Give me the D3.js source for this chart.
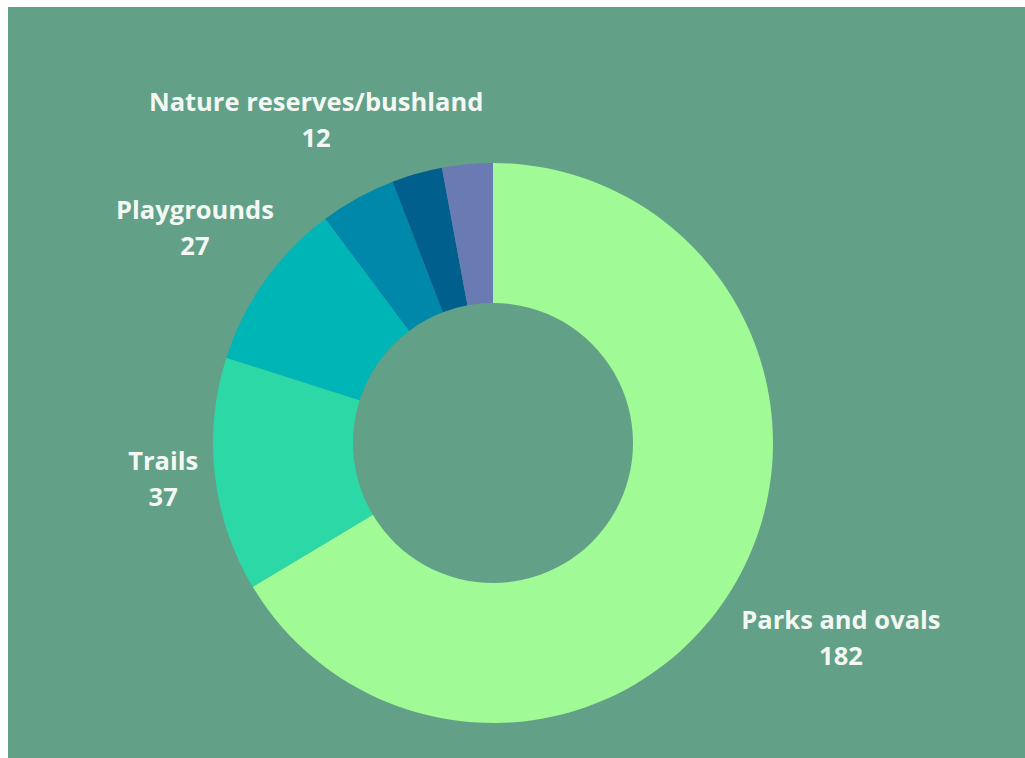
<!DOCTYPE html>
<html>
<head>
<meta charset="utf-8">
<script src="https://cdn.jsdelivr.net/npm/d3@7"></script>
<style>
  html, body { margin: 0; padding: 0; background: #ffffff; }
  svg { display: block; }
  .label { font-family: "Open Sans", sans-serif; font-weight: 700; font-size: 25.5px; fill: #f3f8f3; }
</style>
</head>
<body>
<svg id="chart" width="1025" height="758"></svg>
<script>
// slices in drawing order, clockwise from 12 o'clock
const categories = ["Parks and ovals", "Trails", "Playgrounds", "Nature reserves/bushland", "", ""];
const values = [182, 37, 27, 12, 8, 8];
const colors = ["#a0fa96", "#2dd8a7", "#00b5b6", "#0088aa", "#005f8d", "#6a7ab2"];

const WIDTH = 1025;
const HEIGHT = 758;
const CX = 493;
const CY = 443;
const OUTER_R = 280;
const INNER_R = 140;

// labels don't sit on one radius in the original, so nudge a couple out/in
const labelRadius = { "Parks and ovals": 400, "Trails": 332 };
const DEFAULT_LABEL_R = 366;

const svg = d3.select("#chart");

svg.append("rect")
    .attr("x", 8)
    .attr("y", 7)
    .attr("width", WIDTH - 8)
    .attr("height", HEIGHT - 7)
    .attr("fill", "#62a088");

let slices = categories.map((c, i) => ({ name: c, value: values[i], color: colors[i] }));

let pie = d3.pie()
    .sort(null)
    .value(d => d.value);

let arc = d3.arc()
    .innerRadius(INNER_R)
    .outerRadius(OUTER_R);

let g = svg.append("g")
    .attr("transform", "translate(" + CX + "," + CY + ")");

let arcs = pie(slices);

g.selectAll("path")
    .data(arcs)
    .join("path")
    .attr("d", arc)
    .attr("fill", d => d.data.color);

let labels = g.selectAll("text.label")
    .data(arcs.filter(d => d.data.name !== ""))
    .join("text")
    .attr("class", "label")
    .attr("text-anchor", "middle")
    .attr("transform", d => {
        let r = labelRadius[d.data.name] || DEFAULT_LABEL_R;
        let pos = d3.arc().innerRadius(r).outerRadius(r).centroid(d);
        return "translate(" + pos[0] + "," + pos[1] + ")";
    });

labels.append("tspan")
    .attr("x", 0)
    .attr("dy", "-0.45em")
    .text(d => d.data.name);

labels.append("tspan")
    .attr("x", 0)
    .attr("dy", "1.42em")
    .text(d => d.data.value);
</script>
</body>
</html>
